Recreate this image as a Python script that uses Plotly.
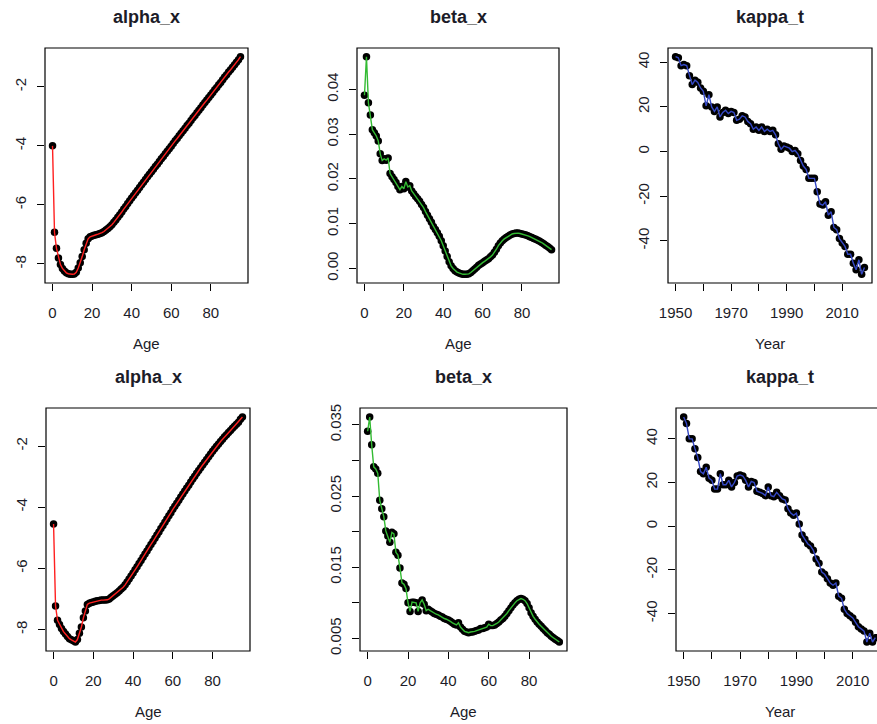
import plotly.graph_objects as go

ages = list(range(96))
years = list(range(1950, 2019))

alpha_top = [-4.00, -6.93, -7.47, -7.80, -8.02, -8.15, -8.24, -8.30, -8.33, -8.35,
             -8.35, -8.34, -8.28, -8.14, -7.96, -7.75, -7.52, -7.30, -7.15, -7.08,
             -7.05, -7.03, -7.01, -6.99, -6.97, -6.94, -6.90, -6.85, -6.80, -6.74,
             -6.67, -6.59, -6.51, -6.42, -6.33, -6.24, -6.14, -6.05, -5.95, -5.86,
             -5.77, -5.68, -5.59, -5.50, -5.41, -5.32, -5.23, -5.14, -5.05, -4.96,
             -4.88, -4.79, -4.70, -4.62, -4.53, -4.44, -4.36, -4.27, -4.18, -4.10,
             -4.01, -3.92, -3.83, -3.75, -3.66, -3.57, -3.49, -3.40, -3.31, -3.23,
             -3.14, -3.05, -2.97, -2.88, -2.79, -2.71, -2.62, -2.53, -2.45, -2.36,
             -2.28, -2.19, -2.10, -2.02, -1.93, -1.85, -1.76, -1.67, -1.59, -1.50,
             -1.42, -1.34, -1.25, -1.17, -1.08, -0.98]

beta_top = [0.0387, 0.0473, 0.0370, 0.0343, 0.0310, 0.0303, 0.0296, 0.0285, 0.0256, 0.0241,
            0.0245, 0.0242, 0.0247, 0.0212, 0.0205, 0.0199, 0.0192, 0.0183, 0.0176, 0.0183,
            0.0178, 0.0194, 0.0182, 0.0185, 0.0173, 0.0167, 0.0161, 0.0156, 0.0150, 0.0143,
            0.0136, 0.0127, 0.0119, 0.0111, 0.0103, 0.0094, 0.0087, 0.0080, 0.0072, 0.0062,
            0.0051, 0.0039, 0.0027, 0.0015, 0.0006, 0.0000, -0.0005, -0.0008, -0.0010, -0.0012,
            -0.0013, -0.0013, -0.0013, -0.0012, -0.0009, -0.0005, -0.0001, 0.0003, 0.0007, 0.0010,
            0.0013, 0.0016, 0.0019, 0.0022, 0.0026, 0.0030, 0.0036, 0.0043, 0.0051, 0.0057,
            0.0062, 0.0066, 0.0069, 0.0072, 0.0075, 0.0077, 0.0078, 0.0079, 0.0079, 0.0078,
            0.0077, 0.0076, 0.0075, 0.0073, 0.0071, 0.0069, 0.0067, 0.0065, 0.0063, 0.0061,
            0.0058, 0.0055, 0.0052, 0.0049, 0.0046, 0.0042]

kappa_top = [42.5, 42.0, 38.5, 39.0, 38.5, 34.0, 30.0, 32.0, 31.0, 28.5,
             27.0, 20.5, 25.5, 20.0, 18.0, 20.0, 15.5, 17.5, 18.5, 17.0,
             18.0, 17.5, 14.0, 14.5, 16.0, 15.5, 13.5, 12.5, 10.0, 11.0,
             9.5, 11.0, 9.0, 10.0, 9.0, 9.5, 7.5, 3.5, 1.0, 2.5,
             2.0, 1.5, 0.0, 0.5, -1.0, -4.0, -6.5, -8.0, -12.0, -12.0,
             -12.0, -18.0, -23.5, -24.0, -22.5, -28.5, -27.0, -34.0, -35.0, -39.0,
             -41.0, -42.5, -46.0, -46.0, -50.0, -53.0, -48.5, -55.0, -52.0]

alpha_bot = [-4.55, -7.23, -7.70, -7.84, -7.97, -8.07, -8.15, -8.23, -8.30, -8.34,
             -8.37, -8.41, -8.33, -8.12, -7.92, -7.62, -7.40, -7.18, -7.14, -7.12,
             -7.10, -7.08, -7.06, -7.05, -7.04, -7.04, -7.04, -7.03, -7.00, -6.95,
             -6.90, -6.85, -6.80, -6.74, -6.68, -6.62, -6.54, -6.45, -6.35, -6.25,
             -6.15, -6.05, -5.95, -5.84, -5.74, -5.64, -5.53, -5.43, -5.33, -5.22,
             -5.12, -5.02, -4.91, -4.81, -4.70, -4.60, -4.49, -4.39, -4.28, -4.18,
             -4.07, -3.97, -3.87, -3.77, -3.67, -3.57, -3.47, -3.37, -3.28, -3.18,
             -3.08, -2.99, -2.89, -2.80, -2.71, -2.62, -2.53, -2.44, -2.35, -2.26,
             -2.17, -2.09, -2.01, -1.93, -1.85, -1.78, -1.70, -1.63, -1.56, -1.49,
             -1.42, -1.35, -1.29, -1.22, -1.12, -1.05]

beta_bot = [0.0341, 0.0361, 0.0322, 0.0291, 0.0288, 0.0282, 0.0244, 0.0232, 0.0221, 0.0201,
            0.0194, 0.0185, 0.0199, 0.0197, 0.0171, 0.0167, 0.0149, 0.0128, 0.0126, 0.0120,
            0.0100, 0.0088, 0.0101, 0.0101, 0.0100, 0.0088, 0.0100, 0.0104, 0.0098, 0.0089,
            0.0091, 0.0089, 0.0087, 0.0085, 0.0084, 0.0083, 0.0081, 0.0080, 0.0078, 0.0077,
            0.0076, 0.0074, 0.0072, 0.0070, 0.0069, 0.0072, 0.0066, 0.0063, 0.0060, 0.0059,
            0.0058, 0.0059, 0.0059, 0.0060, 0.0061, 0.0062, 0.0064, 0.0064, 0.0065, 0.0066,
            0.0070, 0.0068, 0.0068, 0.0069, 0.0071, 0.0073, 0.0076, 0.0078, 0.0081, 0.0085,
            0.0089, 0.0093, 0.0097, 0.0100, 0.0103, 0.0105, 0.0106, 0.0105, 0.0103, 0.0099,
            0.0093, 0.0086, 0.0081, 0.0077, 0.0073, 0.0070, 0.0067, 0.0064, 0.0061, 0.0058,
            0.0056, 0.0053, 0.0051, 0.0049, 0.0047, 0.0045]

kappa_bot = [50.0, 47.0, 40.0, 40.0, 35.5, 31.5, 25.0, 24.0, 27.0, 22.0,
             21.0, 17.0, 17.0, 24.0, 19.0, 19.0, 21.0, 18.0, 20.0, 23.0,
             23.5, 23.0, 21.0, 18.0, 20.5, 20.0, 16.0, 15.5, 15.0, 14.0,
             18.0, 14.0, 13.5, 15.5, 14.0, 12.5, 12.0, 8.0, 6.0, 5.0,
             6.0, 1.0, -4.0, -6.0, -8.0, -9.0, -11.0, -15.0, -17.0, -21.0,
             -22.0, -24.0, -26.0, -27.0, -26.0, -32.0, -33.0, -38.0, -40.0, -41.0,
             -42.0, -44.0, -46.0, -47.0, -48.0, -53.0, -49.0, -53.0, -51.0]

titles = ["alpha_x", "beta_x", "kappa_t", "alpha_x", "beta_x", "kappa_t"]
xlabels = ["Age", "Age", "Year", "Age", "Age", "Year"]
line_colors = ["#ff2020", "#33bb33", "#3447c4", "#ff2020", "#33bb33", "#3447c4"]

age_ticks = [0, 20, 40, 60, 80]
age_text = ["0", "20", "40", "60", "80"]
year_ticks = [1950, 1960, 1970, 1980, 1990, 2000, 2010]
year_text = ["1950", "", "1970", "", "1990", "", "2010"]
alpha_ticks = [-8, -6, -4, -2]
alpha_text = ["-8", "-6", "-4", "-2"]
beta_top_ticks = [0.0, 0.01, 0.02, 0.03, 0.04]
beta_top_text = ["0.00", "0.01", "0.02", "0.03", "0.04"]
beta_bot_ticks = [0.005, 0.010, 0.015, 0.020, 0.025, 0.030, 0.035]
beta_bot_text = ["0.005", "", "0.015", "", "0.025", "", "0.035"]
kappa_ticks = [-40, -20, 0, 20, 40]
kappa_text = ["-40", "-20", "0", "20", "40"]

W, H = 877, 724
FONT = "Liberation Sans, Arial, sans-serif"
TXT = "#1c1c28"

# pixel boxes (left, right, top, bottom)
boxes = [(45, 248, 48, 283), (357, 559, 48, 283), (668, 872, 48, 283),
         (46, 250, 408, 651), (360, 567, 408, 651), (676, 883, 408, 651)]

xs = [ages, ages, years, ages, ages, years]
ys = [alpha_top, beta_top, kappa_top, alpha_bot, beta_bot, kappa_bot]
xt = [(age_ticks, age_text), (age_ticks, age_text), (year_ticks, year_text)] * 2
yt = [(alpha_ticks, alpha_text), (beta_top_ticks, beta_top_text), (kappa_ticks, kappa_text),
      (alpha_ticks, alpha_text), (beta_bot_ticks, beta_bot_text), (kappa_ticks, kappa_text)]


def rrange(v):
    lo, hi = min(v), max(v)
    r = hi - lo
    return [lo - 0.04 * r, hi + 0.04 * r]


fig = go.Figure()
layout = dict(width=W, height=H, margin=dict(l=0, r=0, t=0, b=0, autoexpand=False),
              paper_bgcolor="white", plot_bgcolor="white", showlegend=False,
              font=dict(family=FONT, size=15, color=TXT))
annotations = []
shapes = []

for i in range(6):
    n = "" if i == 0 else str(i + 1)
    L, R, T, B = boxes[i]
    xr = rrange(xs[i])
    right_px = min(R, W)
    # visible portion of the x range (last panel is cut off by the window edge)
    xr_vis = [xr[0], xr[0] + (xr[1] - xr[0]) * (right_px - L) / (R - L)]
    fig.add_trace(go.Scatter(x=xs[i], y=ys[i], mode="markers",
                             marker=dict(color="black", size=7.5),
                             xaxis="x" + n, yaxis="y" + n, hoverinfo="skip"))
    fig.add_trace(go.Scatter(x=xs[i], y=ys[i], mode="lines",
                             line=dict(color=line_colors[i], width=1.4),
                             xaxis="x" + n, yaxis="y" + n, hoverinfo="skip"))
    layout["xaxis" + n] = dict(domain=[L / W, right_px / W], range=xr_vis, anchor="y" + n,
                               automargin=False,
                               showgrid=False, zeroline=False, showline=False,
                               ticks="outside", ticklen=7, tickwidth=1, tickcolor="black",
                               tickvals=xt[i][0], ticktext=xt[i][1],
                               tickfont=dict(size=15, color=TXT), ticklabelstandoff=9)
    layout["yaxis" + n] = dict(domain=[1 - B / H, 1 - T / H], range=rrange(ys[i]), anchor="x" + n,
                               automargin=False,
                               showgrid=False, zeroline=False, showline=False,
                               ticks="outside", ticklen=7, tickwidth=1, tickcolor="black",
                               tickvals=yt[i][0], ticktext=yt[i][1], tickangle=-90,
                               tickfont=dict(size=15, color=TXT), ticklabelstandoff=5)
    shapes.append(dict(type="rect", xref="x" + n + " domain", yref="y" + n + " domain",
                       x0=0, x1=(R - L) / (right_px - L), y0=0, y1=1,
                       line=dict(color="black", width=1.2), fillcolor="rgba(0,0,0,0)"))
    cx = (L + R) / 2
    annotations.append(dict(text="<b>" + titles[i] + "</b>", xref="paper", yref="paper",
                            x=cx / W, y=1 - (T - 31) / H, showarrow=False,
                            xanchor="center", yanchor="middle",
                            font=dict(size=18, color=TXT, family=FONT)))
    annotations.append(dict(text=xlabels[i], xref="paper", yref="paper",
                            x=cx / W, y=1 - (B + 60) / H, showarrow=False,
                            xanchor="center", yanchor="middle",
                            font=dict(size=15, color=TXT, family=FONT)))

layout["annotations"] = annotations
layout["shapes"] = shapes
fig.update_layout(**layout)
fig.write_html("out.html", config={"displayModeBar": False},
               post_script="document.body.style.margin='0';document.body.style.overflow='hidden';")
